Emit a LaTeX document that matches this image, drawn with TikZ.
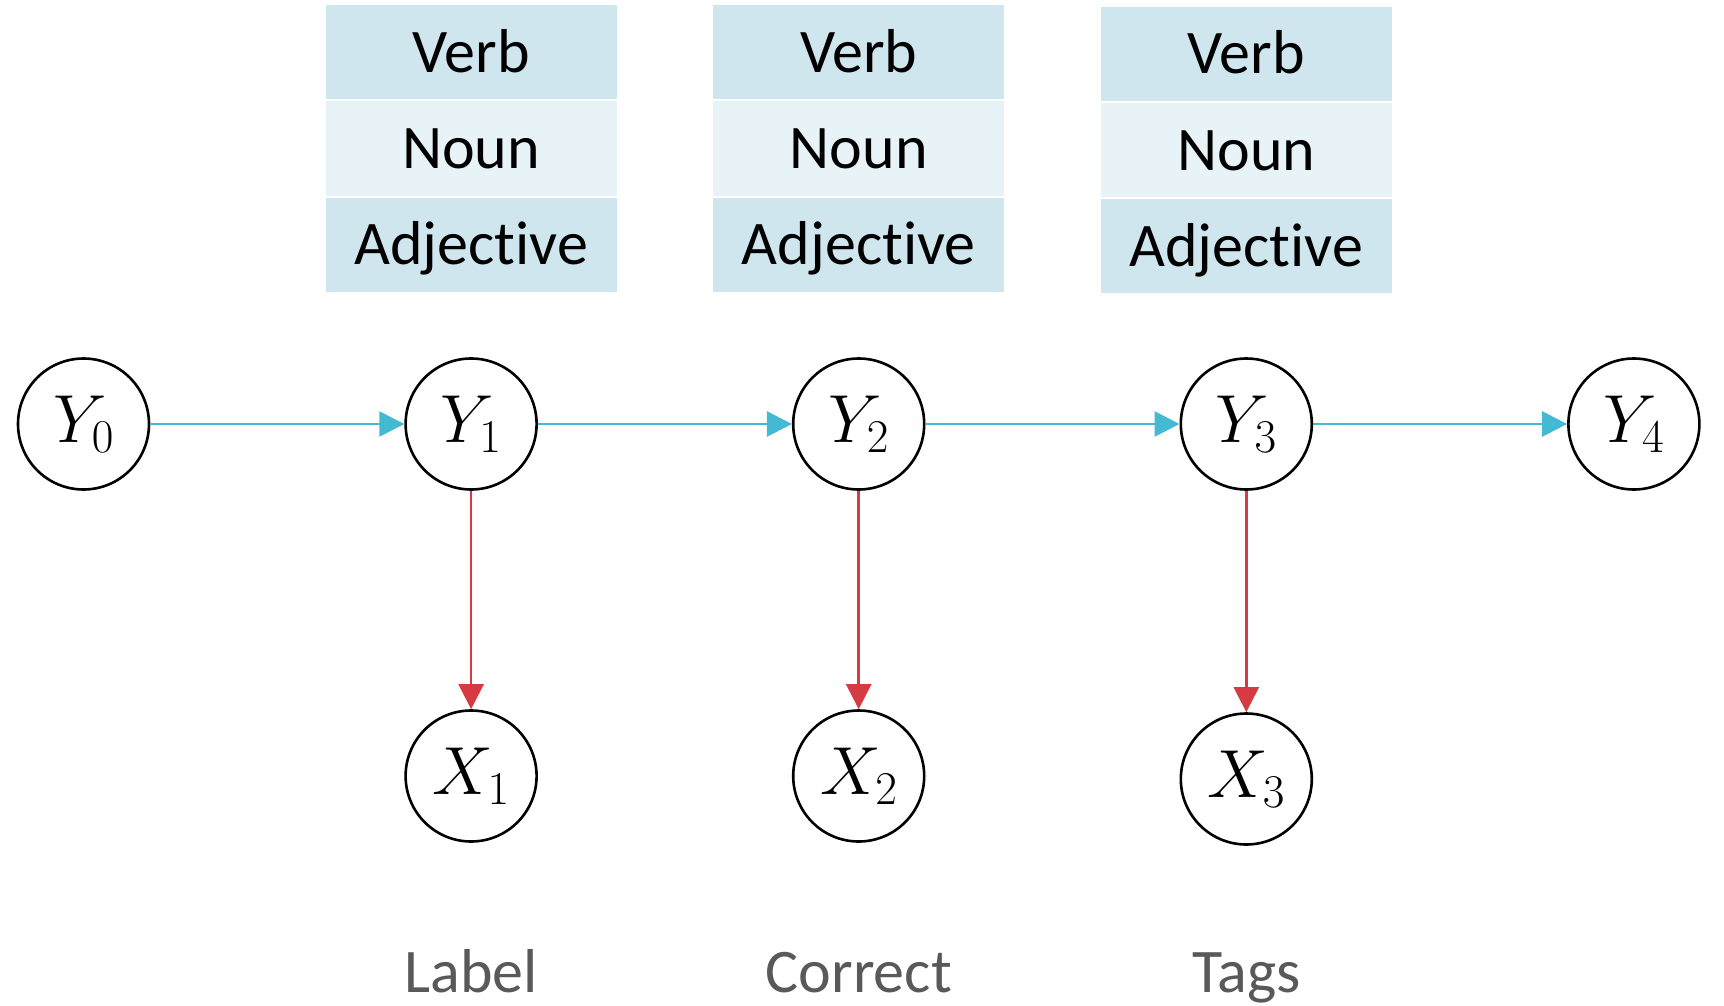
\RequirePackage{fix-cm}
\documentclass[tikz,border=0pt]{standalone}
\usepackage{fontspec}
\setmainfont{Carlito}[Ligatures={NoCommon}]
\usetikzlibrary{arrows.meta}

\definecolor{rowdark}{HTML}{D0E6EE}
\definecolor{rowlight}{HTML}{E8F3F8}
\definecolor{linkblue}{HTML}{43B9D4}
\definecolor{emitred}{HTML}{D63B43}
\definecolor{wordgray}{HTML}{595959}

% variable with a large serif index
\newcommand{\rv}[2]{$#1_{\hbox{\usefont{OT1}{cmr}{m}{n}\fontsize{47}{50}\selectfont #2}}$}

\begin{document}
\begin{tikzpicture}[x=1pt,y=-1pt,
  var/.style={circle,draw=black,line width=2.6pt,minimum size=131pt,inner sep=0pt,
    font=\fontsize{68}{80}\selectfont},
  cell/.style={minimum width=291pt,minimum height=94pt,inner sep=0pt,
    text height=40pt,text depth=0pt,font=\fontsize{62}{74}\selectfont},
  darkcell/.style={cell,fill=rowdark},
  lightcell/.style={cell,fill=rowlight},
  word/.style={anchor=base,text=wordgray,font=\fontsize{62}{74}\selectfont},
  trans/.style={draw=linkblue,line width=2.5pt,-{Triangle[length=25pt,width=25pt]}},
  emit/.style={draw=emitred,line width=2.5pt,-{Triangle[length=25pt,width=25pt]}}
]
\useasboundingbox (0,0) rectangle (1724,1006);

% hidden states
\node[var] (Y0) at (83.5,424) {\rv{Y}{0}};
\node[var] (Y1) at (471.1,424) {\rv{Y}{1}};
\node[var] (Y2) at (858.7,424) {\rv{Y}{2}};
\node[var] (Y3) at (1246.3,424) {\rv{Y}{3}};
\node[var] (Y4) at (1633.9,424) {\rv{Y}{4}};

% observations
\node[var] (X1) at (471.1,776) {\rv{X}{1}};
\node[var] (X2) at (858.7,776) {\rv{X}{2}};
\node[var] (X3) at (1246.3,779) {\rv{X}{3}};

% tag tables
\node[darkcell]  (T1a) at (471.1,52.3)  {Verb};
\node[lightcell] (T1b) at (471.1,148.5) {Noun};
\node[darkcell]  (T1c) at (471.1,244.5) {Adjective};
\node[darkcell]  (T2a) at (858.7,52.3)  {Verb};
\node[lightcell] (T2b) at (858.7,148.5) {Noun};
\node[darkcell]  (T2c) at (858.7,244.5) {Adjective};
\node[darkcell]  (T3a) at (1246.3,53.8)  {Verb};
\node[lightcell] (T3b) at (1246.3,150)   {Noun};
\node[darkcell]  (T3c) at (1246.3,246)   {Adjective};

% words
\node[word] (W1) at (471.1,992) {Label};
\node[word] (W2) at (858.7,992) {Correct};
\node[word] (W3) at (1246.3,992) {Tags};

% transitions
\draw[trans] (Y0) -- (Y1);
\draw[trans] (Y1) -- (Y2);
\draw[trans] (Y2) -- (Y3);
\draw[trans] (Y3) -- (Y4);

% emissions
\draw[emit] (Y1) -- (X1);
\draw[emit] (Y2) -- (X2);
\draw[emit] (Y3) -- (X3);
\end{tikzpicture}
\end{document}
